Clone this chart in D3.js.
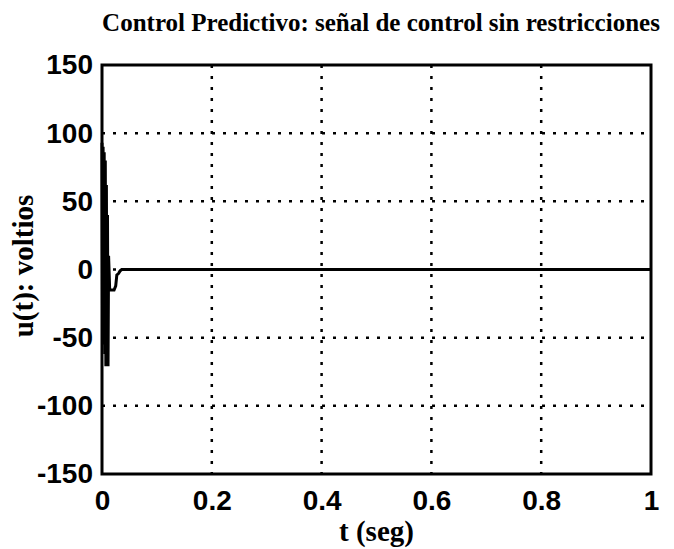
<!DOCTYPE html>
<html>
<head>
<meta charset="utf-8">
<script src="https://cdn.jsdelivr.net/npm/d3@7"></script>
<style>
body { margin: 0; background: #fff; }
</style>
</head>
<body>
<script>
var width = 674,
    height = 549,
    margin = {left: 102, right: 23, top: 65, bottom: 75};

// control signal u(t)
var tVals = [0, 0.001, 0.002, 0.003, 0.004, 0.005, 0.006, 0.007, 0.008, 0.009, 0.010, 0.011, 0.012,
             0.014, 0.018, 0.022, 0.025, 0.027, 0.030, 0.033, 0.036, 0.1, 0.3, 0.5, 0.7, 0.9, 1.0];
var uVals = [93, -40, 90, -55, 86, -62, 80, -71, 62, -70, 40, -71, 10,
             -15, -15, -15, -12, -4, -3, -1, 0, 0, 0, 0, 0, 0, 0];
var xTicks = [0, 0.2, 0.4, 0.6, 0.8, 1];
var yTicks = [-150, -100, -50, 0, 50, 100, 150];

var title = "Control Predictivo: señal de control sin restricciones";
var xLabel = "t (seg)";
var yLabel = "u(t): voltios";

var svg = d3.select("body").append("svg")
    .attr("width", width)
    .attr("height", height);

var x = d3.scaleLinear().domain([0, 1]).range([margin.left, width - margin.right]);
var y = d3.scaleLinear().domain([-150, 150]).range([height - margin.bottom, margin.top]);

// dotted grid
svg.append("g").selectAll("line.gx")
    .data(xTicks.slice(1, -1))
    .enter().append("line")
    .attr("x1", function(d) { return x(d); })
    .attr("x2", function(d) { return x(d); })
    .attr("y1", y(150)).attr("y2", y(-150))
    .attr("stroke", "#000").attr("stroke-width", 2.5)
    .attr("stroke-dasharray", "3,8");
svg.append("g").selectAll("line.gy")
    .data(yTicks.slice(1, -1))
    .enter().append("line")
    .attr("y1", function(d) { return y(d); })
    .attr("y2", function(d) { return y(d); })
    .attr("x1", x(0)).attr("x2", x(1))
    .attr("stroke", "#000").attr("stroke-width", 2.5)
    .attr("stroke-dasharray", "3,8");

// signal
var line = d3.line()
    .x(function(d) { return x(d[0]); })
    .y(function(d) { return y(d[1]); });
svg.append("path")
    .attr("d", line(d3.zip(tVals, uVals)))
    .attr("fill", "none")
    .attr("stroke", "#000")
    .attr("stroke-width", 3);

// axes box
svg.append("rect")
    .attr("x", x(0)).attr("y", y(150))
    .attr("width", x(1) - x(0)).attr("height", y(-150) - y(150))
    .attr("fill", "none").attr("stroke", "#000").attr("stroke-width", 3);

var fmt = function(d) { return String(d); };
var xAxis = d3.axisBottom(x).tickValues(xTicks).tickSize(0).tickPadding(16).tickFormat(fmt);
var yAxis = d3.axisLeft(y).tickValues(yTicks).tickSize(0).tickPadding(9).tickFormat(fmt);

var gx = svg.append("g").attr("transform", "translate(0," + y(-150) + ")").call(xAxis);
var gy = svg.append("g").attr("transform", "translate(" + x(0) + ",0)").call(yAxis);
[gx, gy].forEach(function(g) {
    g.select(".domain").remove();
    g.selectAll("text")
        .attr("fill", "#000")
        .style("font-family", "'Liberation Sans', Arial, sans-serif")
        .style("font-weight", "bold")
        .style("font-size", "28px");
});

svg.append("text")
    .attr("x", 381).attr("y", 31)
    .attr("text-anchor", "middle")
    .style("font-family", "'Liberation Serif', 'Times New Roman', serif")
    .style("font-weight", "bold")
    .style("font-size", "25px")
    .text(title);

svg.append("text")
    .attr("x", x(0.5)).attr("y", 541)
    .attr("text-anchor", "middle")
    .style("font-family", "'Liberation Serif', 'Times New Roman', serif")
    .style("font-weight", "bold")
    .style("font-size", "29px")
    .text(xLabel);

svg.append("text")
    .attr("transform", "translate(33,266) rotate(-90)")
    .attr("text-anchor", "middle")
    .style("font-family", "'Liberation Serif', 'Times New Roman', serif")
    .style("font-weight", "bold")
    .style("font-size", "29px")
    .text(yLabel);
</script>
</body>
</html>
